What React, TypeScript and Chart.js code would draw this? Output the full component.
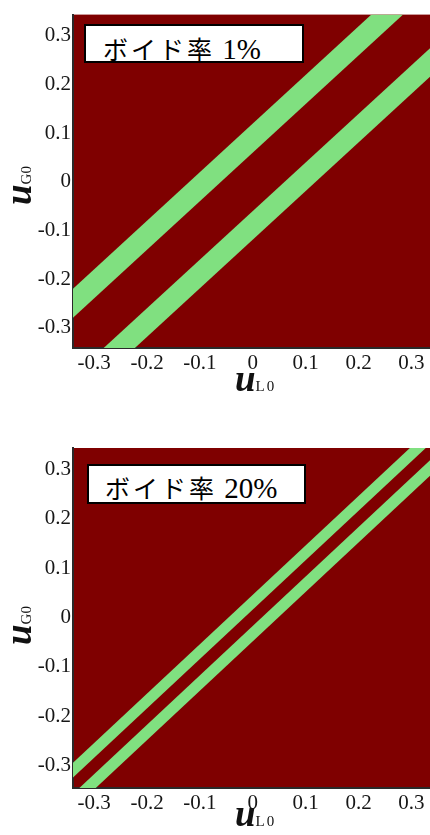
import React, { useEffect, useRef } from "react";
import { Chart, registerables } from "chart.js";

Chart.register(...registerables);

// ---- data ----
const tickValues = [-0.3, -0.2, -0.1, 0, 0.1, 0.2, 0.3];
const uL0Ends = [-0.4, 0.4];

// Panel 1: void fraction 1 %  (u_G0 values of each band edge at uL0Ends)
const void1Label = "ボイド率";
const void1Value = "1%";
const void1LowerBandBottom = [-0.519, 0.281];
const void1LowerBandTop = [-0.46, 0.34];
const void1UpperBandBottom = [-0.34, 0.46];
const void1UpperBandTop = [-0.28, 0.52];

// Panel 2: void fraction 20 %
const void20Label = "ボイド率";
const void20Value = "20%";
const void20LowerBandBottom = [-0.448, 0.352];
const void20LowerBandTop = [-0.417, 0.383];
const void20UpperBandBottom = [-0.384, 0.416];
const void20UpperBandTop = [-0.354, 0.446];

const BG = "#7f0000";
const GREEN = "#80e080";
const TICK_COLOR = "#161616";

type PanelProps = {
  bands: number[][][];
  xMin: number;
  xMax: number;
  yMin: number;
  yMax: number;
  height: number;
  padTop: number;
  xAxisHeight: number;
};

const bgPlugin = {
  id: "plotBg",
  beforeDraw(chart: any) {
    const { ctx, chartArea } = chart;
    if (!chartArea) return;
    ctx.save();
    ctx.fillStyle = BG;
    ctx.fillRect(chartArea.left, chartArea.top, chartArea.right - chartArea.left, chartArea.bottom - chartArea.top);
    ctx.restore();
  },
};

function Panel(props: PanelProps) {
  const ref = useRef<HTMLCanvasElement>(null);
  useEffect(() => {
    if (!ref.current) return;
    const datasets: any[] = [];
    props.bands.forEach((band) => {
      const [lo, hi] = band;
      datasets.push({
        data: uL0Ends.map((x, i) => ({ x, y: lo[i] })),
        borderWidth: 0,
        pointRadius: 0,
        fill: false,
      });
      datasets.push({
        data: uL0Ends.map((x, i) => ({ x, y: hi[i] })),
        borderWidth: 0,
        pointRadius: 0,
        backgroundColor: GREEN,
        fill: "-1",
      });
    });
    const tickFont = { family: "'Liberation Serif', serif", size: 21 };
    const chart = new Chart(ref.current, {
      type: "line",
      data: { datasets },
      plugins: [bgPlugin],
      options: {
        animation: false,
        responsive: false,
        events: [],
        layout: { padding: { top: props.padTop, left: 0, right: 0, bottom: 0 } },
        plugins: { legend: { display: false }, tooltip: { enabled: false } },
        scales: {
          x: {
            type: "linear",
            min: props.xMin,
            max: props.xMax,
            grid: { display: false, drawTicks: false },
            border: { display: true, color: "#2a2a2a", width: 2 },
            ticks: {
              font: tickFont,
              color: TICK_COLOR,
              padding: 3,
              maxRotation: 0,
              callback: (v: any) => (v === 0 ? "0" : Number(v).toFixed(1)),
            },
            afterBuildTicks: (s: any) => {
              s.ticks = tickValues.map((v) => ({ value: v }));
            },
            afterFit: (s: any) => {
              s.height = props.xAxisHeight;
            },
          },
          y: {
            type: "linear",
            min: props.yMin,
            max: props.yMax,
            grid: { display: false, drawTicks: false },
            border: { display: true, color: "#2a2a2a", width: 2 },
            ticks: {
              font: tickFont,
              color: TICK_COLOR,
              padding: 2,
              callback: (v: any) => (v === 0 ? "0" : Number(v).toFixed(1)),
            },
            afterBuildTicks: (s: any) => {
              s.ticks = tickValues.map((v) => ({ value: v }));
            },
            afterFit: (s: any) => {
              s.width = 73;
            },
          },
        },
      } as any,
    });
    return () => chart.destroy();
  }, []);
  return <canvas ref={ref} width={430} height={props.height} style={{ display: "block" }} />;
}

function AxisTitleX({ top, sub }: { top: number; sub: string }) {
  return (
    <div
      style={{
        position: "absolute",
        left: 235,
        top,
        fontFamily: "'Liberation Serif', serif",
        fontSize: 37,
        lineHeight: "40px",
        whiteSpace: "nowrap",
        color: "#111",
      }}
    >
      <span style={{ fontStyle: "italic", fontWeight: 700, lineHeight: 1 }}>u</span>
      <span style={{ fontSize: 15, lineHeight: 1, letterSpacing: 2 }}>{sub}</span>
    </div>
  );
}

function AxisTitleY({ top, sub }: { top: number; sub: string }) {
  return (
    <div
      style={{
        position: "absolute",
        left: -1,
        top,
        transform: "rotate(-90deg)",
        transformOrigin: "0 0",
        fontFamily: "'Liberation Serif', serif",
        fontSize: 37,
        lineHeight: "40px",
        whiteSpace: "nowrap",
        color: "#111",
      }}
    >
      <span style={{ fontStyle: "italic", fontWeight: 700, lineHeight: 1 }}>u</span>
      <span style={{ fontSize: 15, lineHeight: 1 }}>{sub}</span>
    </div>
  );
}

function LabelBox({
  left,
  top,
  width,
  height,
  textLeft,
  textTop,
  label,
  value,
}: {
  left: number;
  top: number;
  width: number;
  height: number;
  textLeft: number;
  textTop: number;
  label: string;
  value: string;
}) {
  return (
    <div
      style={{
        position: "absolute",
        left,
        top,
        width,
        height,
        boxSizing: "border-box",
        border: "2px solid #000",
        background: "#fff",
        overflow: "hidden",
      }}
    >
      <div
        style={{
          position: "absolute",
          left: textLeft,
          top: textTop,
          fontFamily: "'Liberation Serif', 'Noto Sans CJK JP', serif",
          fontSize: 29,
          lineHeight: "32px",
          whiteSpace: "nowrap",
          color: "#000",
        }}
      >
        <span style={{ fontFamily: "'Noto Sans CJK JP'", fontSize: 25, lineHeight: 1, letterSpacing: 3, fontWeight: 400 }}>
          {label}
        </span>
        <span style={{ lineHeight: 1 }}> {value}</span>
      </div>
    </div>
  );
}

export default function App() {
  return (
    <div style={{ position: "absolute", left: 0, top: 0, width: 430, height: 835, background: "#fff", overflow: "hidden" }}>
      <div style={{ position: "absolute", left: 0, top: 0 }}>
        <Panel
          bands={[
            [void1LowerBandBottom, void1LowerBandTop],
            [void1UpperBandBottom, void1UpperBandTop],
          ]}
          xMin={-0.34}
          xMax={0.335}
          yMin={-0.342}
          yMax={0.344}
          height={400}
          padTop={8.5}
          xAxisHeight={52}
        />
      </div>
      <div style={{ position: "absolute", left: 0, top: 420 }}>
        <Panel
          bands={[
            [void20LowerBandBottom, void20LowerBandTop],
            [void20UpperBandBottom, void20UpperBandTop],
          ]}
          xMin={-0.34}
          xMax={0.335}
          yMin={-0.345}
          yMax={0.343}
          height={415}
          padTop={28}
          xAxisHeight={47}
        />
      </div>
      <LabelBox left={84} top={24} width={220} height={39} textLeft={17} textTop={7} label={void1Label} value={void1Value} />
      <LabelBox left={87} top={464} width={219} height={40} textLeft={16} textTop={6} label={void20Label} value={void20Value} />
      <AxisTitleX top={359} sub="L0" />
      <AxisTitleX top={794} sub="L0" />
      <AxisTitleY top={205} sub="G0" />
      <AxisTitleY top={645} sub="G0" />
    </div>
  );
}
